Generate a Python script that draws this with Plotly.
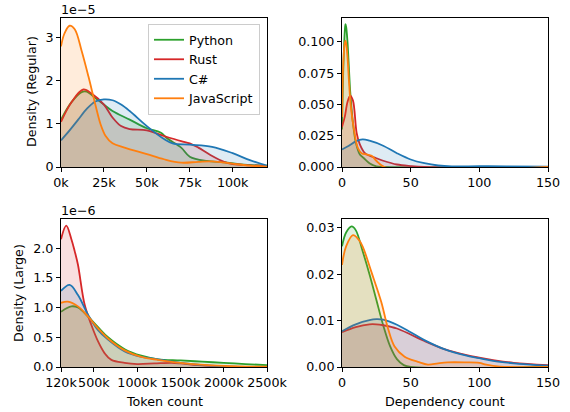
import plotly.graph_objects as go

W, H = 570, 412

languages = ["Python", "Rust", "C#", "JavaScript"]
colors = ["#2ca02c", "#d62728", "#1f77b4", "#ff7f0e"]
fills = ["rgba(44,160,44,0.15)", "rgba(214,39,40,0.15)", "rgba(31,119,180,0.15)", "rgba(255,127,14,0.15)"]

# --- Panel A: token count, regular (x in tokens, y in units of 1e-5) ---
py_reg_tok_x = [0, 6000, 12000, 15000, 20000, 25000, 30000, 40000, 50000, 58000, 62000, 70000, 75000, 85000, 95000, 105000, 120000]
py_reg_tok_y = [1.1, 1.5, 1.74, 1.75, 1.6, 1.45, 1.3, 1.1, 0.9, 0.8, 0.66, 0.45, 0.24, 0.14, 0.11, 0.06, 0.03]
rs_reg_tok_x = [0, 6000, 13000, 18000, 25000, 30000, 35000, 40000, 50000, 60000, 70000, 75000, 80000, 87000, 95000, 100000, 110000, 120000]
rs_reg_tok_y = [1.05, 1.5, 1.8, 1.7, 1.45, 1.15, 0.95, 0.88, 0.85, 0.72, 0.6, 0.55, 0.45, 0.28, 0.12, 0.07, 0.04, 0.02]
cs_reg_tok_x = [0, 5000, 10000, 15000, 20000, 25000, 30000, 35000, 40000, 50000, 60000, 65000, 75000, 88000, 100000, 110000, 120000]
cs_reg_tok_y = [0.62, 0.85, 1.1, 1.35, 1.52, 1.57, 1.55, 1.45, 1.3, 0.95, 0.65, 0.55, 0.52, 0.47, 0.32, 0.16, 0.03]
js_reg_tok_x = [0, 2000, 5000, 8000, 12000, 16000, 20000, 23000, 26000, 30000, 37000, 50000, 60000, 70000, 80000, 88000, 100000, 110000, 120000]
js_reg_tok_y = [2.8, 3.1, 3.28, 3.2, 2.7, 2.1, 1.45, 1.0, 0.72, 0.55, 0.45, 0.3, 0.18, 0.1, 0.12, 0.13, 0.08, 0.03, 0.01]

# --- Panel B: dependency count, regular ---
py_reg_dep_x = [0, 1, 2, 2.5, 3, 4, 5, 6, 8, 10, 13, 16, 20, 25, 30, 150]
py_reg_dep_y = [0.03, 0.08, 0.108, 0.114, 0.112, 0.1, 0.08, 0.06, 0.035, 0.02, 0.01, 0.007, 0.003, 0.0005, 0.0, 0.0]
rs_reg_dep_x = [0, 2, 4, 6, 8, 10.7, 13, 16.7, 20, 25, 30, 40, 50, 60, 150]
rs_reg_dep_y = [0.032, 0.04, 0.052, 0.057, 0.053, 0.027, 0.018, 0.011, 0.009, 0.007, 0.005, 0.002, 0.0007, 0.0, 0.0]
cs_reg_dep_x = [0, 5, 10, 15, 20, 30, 40, 50, 60, 70, 80, 100, 120, 150]
cs_reg_dep_y = [0.014, 0.017, 0.0205, 0.022, 0.021, 0.017, 0.011, 0.006, 0.003, 0.0012, 0.0005, 0.0006, 0.0005, 0.0002]
js_reg_dep_x = [0, 1, 2, 2.5, 3, 4, 5, 6.3, 9, 11.6, 14.3, 18, 21.6, 25, 31, 150]
js_reg_dep_y = [0.04, 0.085, 0.099, 0.101, 0.099, 0.088, 0.07, 0.05, 0.028, 0.015, 0.011, 0.01, 0.009, 0.005, 0.0, 0.0]

# --- Panel C: token count, large (x in tokens, y in units of 1e-6) ---
py_lrg_tok_x = [120000, 240000, 316000, 432000, 548000, 663000, 856000, 1048000, 1240000, 1500000, 1750000, 2000000, 2250000, 2500000]
py_lrg_tok_y = [0.93, 1.02, 1.0, 0.85, 0.67, 0.5, 0.3, 0.19, 0.13, 0.11, 0.09, 0.07, 0.05, 0.03]
rs_lrg_tok_x = [120000, 181000, 240000, 278000, 316000, 393000, 470000, 548000, 625000, 702000, 856000, 1000000, 1200000, 1400000, 1500000, 1700000, 2000000, 2500000]
rs_lrg_tok_y = [2.15, 2.38, 2.15, 1.95, 1.72, 1.05, 0.71, 0.43, 0.23, 0.12, 0.07, 0.05, 0.06, 0.07, 0.06, 0.03, 0.01, 0.0]
cs_lrg_tok_x = [120000, 220000, 316000, 432000, 548000, 663000, 856000, 1048000, 1240000, 1500000, 2000000, 2500000]
cs_lrg_tok_y = [1.28, 1.38, 1.21, 0.88, 0.62, 0.46, 0.26, 0.17, 0.13, 0.07, 0.01, 0.0]
js_lrg_tok_x = [120000, 200000, 316000, 432000, 548000, 663000, 856000, 1048000, 1240000, 1500000, 2000000, 2500000]
js_lrg_tok_y = [1.08, 1.1, 1.02, 0.85, 0.65, 0.48, 0.28, 0.17, 0.12, 0.07, 0.02, 0.005]

# --- Panel D: dependency count, large ---
py_lrg_dep_x = [0, 3, 7, 10, 15, 20, 25, 30, 35, 40, 45, 50, 150]
py_lrg_dep_y = [0.026, 0.029, 0.0303, 0.0295, 0.025, 0.02, 0.0145, 0.009, 0.0045, 0.0017, 0.0004, 0.0, 0.0]
rs_lrg_dep_x = [0, 10, 20, 25, 30, 40, 50, 60, 75, 90, 100, 110, 125, 150]
rs_lrg_dep_y = [0.0075, 0.0086, 0.0092, 0.0092, 0.009, 0.0083, 0.007, 0.0056, 0.0038, 0.0026, 0.002, 0.0015, 0.0009, 0.0004]
cs_lrg_dep_x = [0, 10, 20, 25, 30, 40, 50, 60, 75, 90, 100, 110, 125, 150]
cs_lrg_dep_y = [0.0077, 0.0092, 0.0101, 0.0103, 0.0102, 0.0091, 0.0075, 0.0058, 0.0038, 0.0025, 0.0019, 0.0013, 0.0008, 0.0003]
js_lrg_dep_x = [0, 3, 8, 12, 15, 21.4, 28.6, 33.4, 38.3, 45.6, 55.3, 62.6, 70, 77, 90, 100, 105, 115, 150]
js_lrg_dep_y = [0.022, 0.026, 0.0284, 0.0275, 0.026, 0.0205, 0.014, 0.0084, 0.0044, 0.0022, 0.0011, 0.0005, 0.0008, 0.001, 0.001, 0.0009, 0.0005, 0.0001, 0.0]

# tick labels
tok_reg_ticks = [0, 25000, 50000, 75000, 100000]
tok_reg_labels = ["0k", "25k", "50k", "75k", "100k"]
tok_lrg_ticks = [120000, 500000, 1000000, 1500000, 2000000, 2500000]
tok_lrg_labels = ["120k", "500k", "1000k", "1500k", "2000k", "2500k"]
dep_ticks = [0, 50, 100, 150]
dep_labels = ["0", "50", "100", "150"]
regA_yticks = [0, 1, 2, 3]
regB_yticks = [0, 0.025, 0.05, 0.075, 0.1]
regB_ylabels = ["0.000", "0.025", "0.050", "0.075", "0.100"]
lrgC_yticks = [0, 0.5, 1.0, 1.5, 2.0]
lrgC_ylabels = ["0.0", "0.5", "1.0", "1.5", "2.0"]
lrgD_yticks = [0, 0.01, 0.02, 0.03]
lrgD_ylabels = ["0.00", "0.01", "0.02", "0.03"]

panels = [
    ("x", "y", [(py_reg_tok_x, py_reg_tok_y), (rs_reg_tok_x, rs_reg_tok_y), (cs_reg_tok_x, cs_reg_tok_y), (js_reg_tok_x, js_reg_tok_y)]),
    ("x2", "y2", [(py_reg_dep_x, py_reg_dep_y), (rs_reg_dep_x, rs_reg_dep_y), (cs_reg_dep_x, cs_reg_dep_y), (js_reg_dep_x, js_reg_dep_y)]),
    ("x3", "y3", [(py_lrg_tok_x, py_lrg_tok_y), (rs_lrg_tok_x, rs_lrg_tok_y), (cs_lrg_tok_x, cs_lrg_tok_y), (js_lrg_tok_x, js_lrg_tok_y)]),
    ("x4", "y4", [(py_lrg_dep_x, py_lrg_dep_y), (rs_lrg_dep_x, rs_lrg_dep_y), (cs_lrg_dep_x, cs_lrg_dep_y), (js_lrg_dep_x, js_lrg_dep_y)]),
]

fig = go.Figure()
for xa, ya, series in panels:
    for i, (xs, ys) in enumerate(series):
        fig.add_trace(go.Scatter(
            x=xs, y=ys, xaxis=xa, yaxis=ya, mode="lines",
            line=dict(color=colors[i], width=1.8, shape="spline", smoothing=1.0),
            fill="tozeroy", fillcolor=fills[i], showlegend=False, hoverinfo="skip",
        ))

# legend-only entries (lines only, like matplotlib)
for i, name in enumerate(languages):
    fig.add_trace(go.Scatter(x=[None], y=[None], xaxis="x", yaxis="y", mode="lines",
                             line=dict(color=colors[i], width=1.8), name=name, showlegend=True))

FS = 12.7
font = dict(family="DejaVu Sans", size=FS, color="black")

def px_x(a, b):
    return [a / W, b / W]

def px_y(top, bottom):
    return [1 - bottom / H, 1 - top / H]

axis_common = dict(showline=True, linecolor="black", linewidth=1, mirror=True, ticks="outside",
                   ticklen=4, tickwidth=1, tickcolor="black", showgrid=False, zeroline=False,
                   tickfont=font, automargin=False, tickangle=0)

L1, R1, L2, R2 = 61, 267, 342, 548
T1, B1, T2, B2 = 18, 167, 219, 367

fig.update_layout(
    width=W, height=H, margin=dict(l=0, r=0, t=0, b=0, autoexpand=False),
    paper_bgcolor="white", plot_bgcolor="white", font=font, hovermode=False,
    xaxis=dict(domain=px_x(L1, R1), anchor="y", range=[0, 120000], tickvals=tok_reg_ticks, ticktext=tok_reg_labels, **axis_common),
    yaxis=dict(domain=px_y(T1, B1), anchor="x", range=[0, 3.46], tickvals=regA_yticks, ticktext=[str(v) for v in regA_yticks], **axis_common),
    xaxis2=dict(domain=px_x(L2, R2), anchor="y2", range=[0, 150], tickvals=dep_ticks, ticktext=dep_labels, **axis_common),
    yaxis2=dict(domain=px_y(T1, B1), anchor="x2", range=[0, 0.119], tickvals=regB_yticks, ticktext=regB_ylabels, **axis_common),
    xaxis3=dict(domain=px_x(L1, R1), anchor="y3", range=[120000, 2500000], tickvals=tok_lrg_ticks, ticktext=tok_lrg_labels, **axis_common),
    yaxis3=dict(domain=px_y(T2, B2), anchor="x3", range=[0, 2.49], tickvals=lrgC_yticks, ticktext=lrgC_ylabels, **axis_common),
    xaxis4=dict(domain=px_x(L2, R2), anchor="y4", range=[0, 150], tickvals=dep_ticks, ticktext=dep_labels, **axis_common),
    yaxis4=dict(domain=px_y(T2, B2), anchor="x4", range=[0, 0.0319], tickvals=lrgD_yticks, ticktext=lrgD_ylabels, **axis_common),
    legend=dict(x=260 / W, y=1 - 24 / H, xanchor="right", yanchor="top", bgcolor="rgba(255,255,255,0.8)",
                bordercolor="#cccccc", borderwidth=1, font=font, itemwidth=30, tracegroupgap=0),
)

def ann(text, x, y, xanchor="center", yanchor="middle", angle=0):
    fig.add_annotation(text=text, x=x / W, y=1 - y / H, xref="paper", yref="paper",
                       xanchor=xanchor, yanchor=yanchor, showarrow=False, textangle=angle, font=font)

ann("1e\u22125", 59, 10, xanchor="left")
ann("1e\u22126", 59, 210, xanchor="left")
ann("Density (Regular)", 31, 92, angle=-90)
ann("Density (Large)", 18, 293, angle=-90)
ann("Token count", 164, 401)
ann("Dependency count", 445, 401)

# remove the browser's default body margin so the figure sits at the page origin
fig.write_html("out.html", config={"displayModeBar": False},
               post_script="document.body.style.margin='0';document.body.style.overflow='hidden';")
